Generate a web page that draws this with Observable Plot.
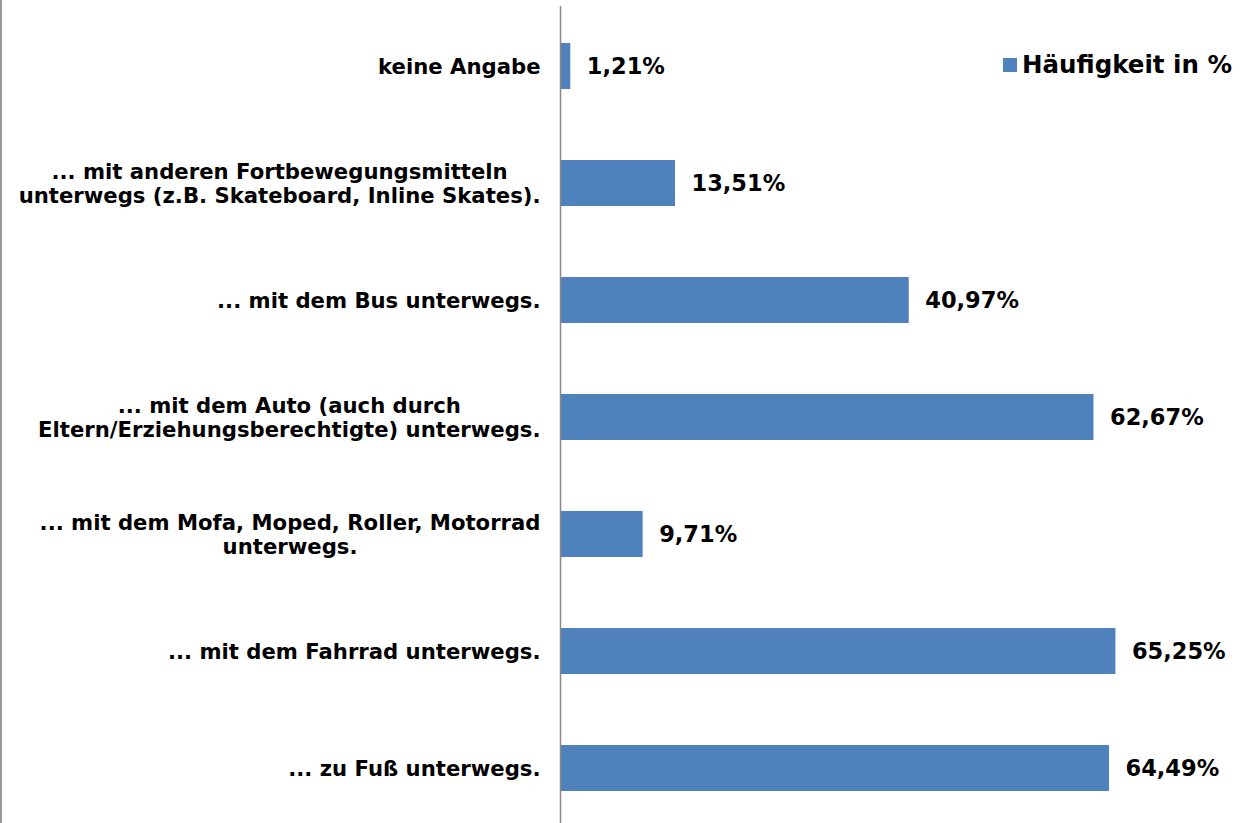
<!DOCTYPE html>
<html>
<head>
<meta charset="utf-8">
<script src="https://cdn.jsdelivr.net/npm/d3@7"></script>
<script src="https://cdn.jsdelivr.net/npm/@observablehq/plot@0.6"></script>
<style>
  html, body { margin: 0; padding: 0; background: #fff; }
  #wrap { position: relative; width: 1247px; height: 823px; overflow: hidden; font-family: "DejaVu Sans", Verdana, sans-serif; }
  #leftborder { position: absolute; left: 0; top: 0; width: 2px; height: 823px; background: #999; }
  #legend { position: absolute; left: 1003px; top: 49px; display: flex; align-items: center; font-weight: bold; font-size: 24.5px; color: #000; line-height: 32px; }
  #legend .sw { width: 14px; height: 14px; background: #4F81BD; margin-right: 5px; }
</style>
</head>
<body>
<div id="wrap">
  <div id="leftborder"></div>
  <div id="legend"><div class="sw"></div><span>Häufigkeit in %</span></div>
</div>
<script>
const categories = [
  "keine Angabe",
  "... mit anderen Fortbewegungsmitteln\nunterwegs (z.B. Skateboard, Inline Skates).",
  "... mit dem Bus unterwegs.",
  "... mit dem Auto (auch durch\nEltern/Erziehungsberechtigte) unterwegs.",
  "... mit dem Mofa, Moped, Roller, Motorrad\nunterwegs.",
  "... mit dem Fahrrad unterwegs.",
  "... zu Fuß unterwegs."
];
const values = [1.21, 13.51, 40.97, 62.67, 9.71, 65.25, 64.49];
const valueLabels = ["1,21%", "13,51%", "40,97%", "62,67%", "9,71%", "65,25%", "64,49%"];
const seriesName = "Häufigkeit in %";

const data = categories.map((c, i) => ({cat: c, value: values[i], label: valueLabels[i]}));

const chart = Plot.plot({
  width: 1247,
  height: 823,
  marginLeft: 560,
  marginRight: 6,
  marginTop: 6,
  marginBottom: 0,
  style: {background: "transparent", fontFamily: "'DejaVu Sans', Verdana, sans-serif"},
  x: {domain: [0, 80], axis: null},
  y: {domain: categories, range: [6.4, 826.8], paddingInner: 0.608, paddingOuter: 0.304, axis: null},
  marks: [
    Plot.barX(data, {x: "value", y: "cat", fill: "#4F81BD"}),
    Plot.ruleX([0], {stroke: "#888", strokeWidth: 1.5}),
    Plot.text(data, {x: "value", y: "cat", text: "label", textAnchor: "start", dx: 16, fontWeight: "bold", fontSize: 22.5, fill: "#000"}),
    Plot.text(data, {x: 0, y: "cat", text: "cat", textAnchor: "end", dx: -20, fontWeight: "bold", fontSize: 21.2, lineHeight: 1.13, fill: "#000", className: "catlabel"})
  ]
});
document.getElementById("wrap").prepend(chart);
chart.style.position = "absolute";
chart.style.left = "0";
chart.style.top = "0";

// center multi-line category labels within their block (right edge stays fixed)
chart.querySelectorAll(".catlabel text").forEach(t => {
  const bb = t.getBBox();
  t.setAttribute("text-anchor", "middle");
  const tr = t.getAttribute("transform") || "";
  t.setAttribute("transform", tr + ` translate(${-bb.width / 2},0)`);
});
document.querySelectorAll(".catlabel").forEach(g => g.removeAttribute("text-anchor"));
</script>
</body>
</html>
